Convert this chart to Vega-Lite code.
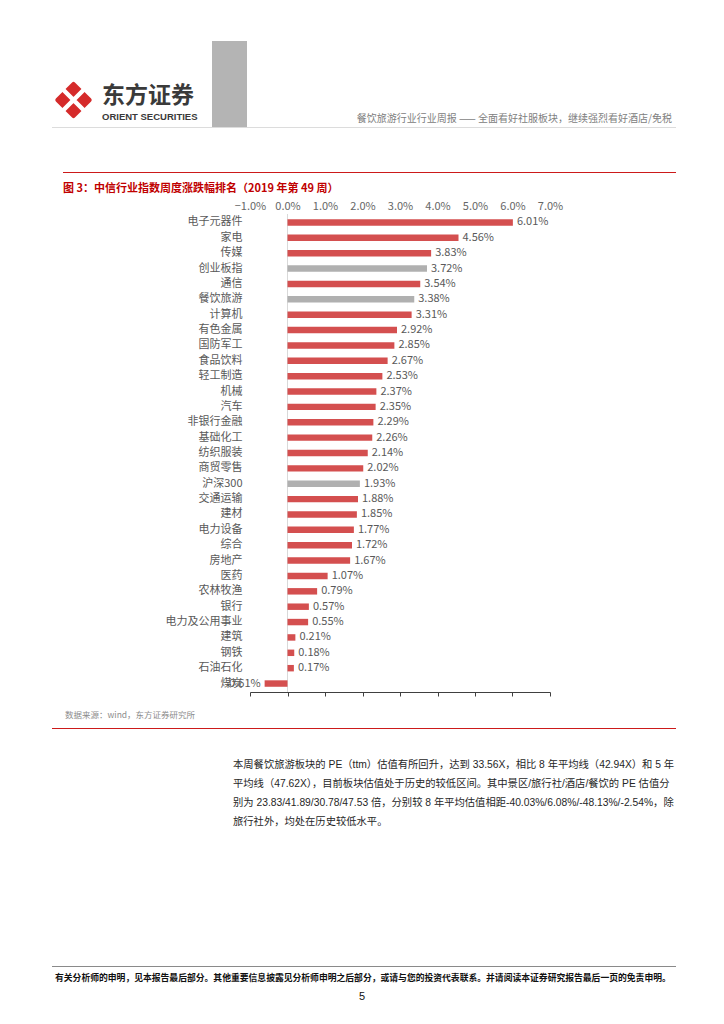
{
  "$schema": "https://vega.github.io/schema/vega-lite/v6.json",
  "padding": {"left": 46, "top": 41, "right": 0, "bottom": 0},
  "background": "white",
  "columns": 4,
  "bounds": "flush",
  "spacing": 0,
  "config": {"view": {"stroke": null}, "font": "Noto Sans CJK SC", "title": {"fontWeight": "normal", "frame": "group"}},
  "concat": [
    {"width": 11, "height": 38, "data": {"values": [{}]}, "mark": {"type": "text"}, "encoding": {"text": {"value": ""}}},
    {"width": 149, "height": 38, "data": {"values": [{}]}, "mark": {"type": "text"}, "encoding": {"text": {"value": ""}}},
    {"width": 35, "height": 38, "view": {"fill": "#b4b4b4", "stroke": null}, "data": {"values": [{}]}, "mark": {"type": "text"}, "encoding": {"text": {"value": ""}}},
    {"width": 426, "height": 38, "data": {"values": [{}]}, "mark": {"type": "text"}, "encoding": {"text": {"value": ""}}},

    {"width": 11, "height": 48, "data": {"values": [{}]}, "mark": {"type": "text"}, "encoding": {"text": {"value": ""}}},
    {
      "width": 21, "height": 42,
      "data": {"values": [{}]},
      "title": {"text": "东方证券", "subtitle": "ORIENT SECURITIES", "orient": "bottom", "anchor": "start", "offset": -42, "dx": 39, "fontSize": 23, "fontWeight": "bold", "color": "#3a3a3a", "subtitleFontSize": 9.5, "subtitleFontWeight": "bold", "subtitleColor": "#3a3a3a", "subtitleFont": "Liberation Sans", "subtitlePadding": 4},
      "layer": [
        {"mark": {"type": "point", "shape": "diamond", "filled": true, "fill": "#d52b2b", "stroke": "#d52b2b", "strokeWidth": 4, "strokeJoin": "round", "size": 1050, "opacity": 1}},
        {"mark": {"type": "point", "shape": "M-1,-1L1,1M1,-1L-1,1", "filled": false, "stroke": "white", "strokeWidth": 4.5, "size": 1300, "opacity": 1}}
      ]
    },
    {"width": 35, "height": 48, "view": {"fill": "#b4b4b4", "stroke": null}, "data": {"values": [{}]}, "mark": {"type": "text"}, "encoding": {"text": {"value": ""}}},
    {
      "width": 426, "height": 48, "data": {"values": [{}]}, "mark": {"type": "text"}, "encoding": {"text": {"value": ""}},
      "title": {"text": "餐饮旅游行业行业周报 —— 全面看好社服板块，继续强烈看好酒店/免税", "orient": "bottom", "anchor": "end", "offset": -13, "dx": -4, "fontSize": 10, "color": "#808080"}
    },

    {"width": 11, "height": 1, "view": {"fill": "#dcdcdc", "stroke": null}, "data": {"values": [{}]}, "mark": {"type": "text"}, "encoding": {"text": {"value": ""}}},
    {"width": 149, "height": 1, "view": {"fill": "#dcdcdc", "stroke": null}, "data": {"values": [{}]}, "mark": {"type": "text"}, "encoding": {"text": {"value": ""}}},
    {"width": 38, "height": 1, "view": {"fill": "#dcdcdc", "stroke": null}, "data": {"values": [{}]}, "mark": {"type": "text"}, "encoding": {"text": {"value": ""}}},
    {"width": 426, "height": 1, "view": {"fill": "#dcdcdc", "stroke": null}, "data": {"values": [{}]}, "mark": {"type": "text"}, "encoding": {"text": {"value": ""}}},

    {"width": 11, "height": 44, "data": {"values": [{}]}, "mark": {"type": "text"}, "encoding": {"text": {"value": ""}}},
    {"width": 149, "height": 44, "data": {"values": [{}]}, "mark": {"type": "text"}, "encoding": {"text": {"value": ""}}},
    {"width": 38, "height": 44, "data": {"values": [{}]}, "mark": {"type": "text"}, "encoding": {"text": {"value": ""}}},
    {"width": 426, "height": 44, "data": {"values": [{}]}, "mark": {"type": "text"}, "encoding": {"text": {"value": ""}}},

    {"width": 11, "height": 1, "data": {"values": [{}]}, "mark": {"type": "text"}, "encoding": {"text": {"value": ""}}},
    {
      "width": 149, "height": 1, "view": {"fill": "#cc1a1a", "stroke": null}, "data": {"values": [{}]}, "mark": {"type": "text"}, "encoding": {"text": {"value": ""}},
      "title": {"text": "图 3：中信行业指数周度涨跌幅排名（2019 年第 49 周）", "orient": "bottom", "anchor": "start", "offset": 5, "fontSize": 11, "fontWeight": "bold", "color": "#c00000"}
    },
    {"width": 38, "height": 1, "view": {"fill": "#cc1a1a", "stroke": null}, "data": {"values": [{}]}, "mark": {"type": "text"}, "encoding": {"text": {"value": ""}}},
    {"width": 426, "height": 1, "view": {"fill": "#cc1a1a", "stroke": null}, "data": {"values": [{}]}, "mark": {"type": "text"}, "encoding": {"text": {"value": ""}}},

    {"width": 11, "height": 41, "data": {"values": [{}]}, "mark": {"type": "text"}, "encoding": {"text": {"value": ""}}},
    {"width": 149, "height": 41, "data": {"values": [{}]}, "mark": {"type": "text"}, "encoding": {"text": {"value": ""}}},
    {"width": 38, "height": 41, "data": {"values": [{}]}, "mark": {"type": "text"}, "encoding": {"text": {"value": ""}}},
    {"width": 426, "height": 41, "data": {"values": [{}]}, "mark": {"type": "text"}, "encoding": {"text": {"value": ""}}},

    {"width": 11, "height": 478, "data": {"values": [{}]}, "mark": {"type": "text"}, "encoding": {"text": {"value": ""}}},
    {"width": 149, "height": 478, "data": {"values": [{}]}, "mark": {"type": "text"}, "encoding": {"text": {"value": ""}}},
    {"width": 38, "height": 478, "data": {"values": [{}]}, "mark": {"type": "text"}, "encoding": {"text": {"value": ""}}},
    {
      "width": 300, "height": 478,
      "data": {"values": [
        {"industry": "电子元器件", "chg": 0.0601, "kind": "行业"},
        {"industry": "家电", "chg": 0.0456, "kind": "行业"},
        {"industry": "传媒", "chg": 0.0383, "kind": "行业"},
        {"industry": "创业板指", "chg": 0.0372, "kind": "对照"},
        {"industry": "通信", "chg": 0.0354, "kind": "行业"},
        {"industry": "餐饮旅游", "chg": 0.0338, "kind": "对照"},
        {"industry": "计算机", "chg": 0.0331, "kind": "行业"},
        {"industry": "有色金属", "chg": 0.0292, "kind": "行业"},
        {"industry": "国防军工", "chg": 0.0285, "kind": "行业"},
        {"industry": "食品饮料", "chg": 0.0267, "kind": "行业"},
        {"industry": "轻工制造", "chg": 0.0253, "kind": "行业"},
        {"industry": "机械", "chg": 0.0237, "kind": "行业"},
        {"industry": "汽车", "chg": 0.0235, "kind": "行业"},
        {"industry": "非银行金融", "chg": 0.0229, "kind": "行业"},
        {"industry": "基础化工", "chg": 0.0226, "kind": "行业"},
        {"industry": "纺织服装", "chg": 0.0214, "kind": "行业"},
        {"industry": "商贸零售", "chg": 0.0202, "kind": "行业"},
        {"industry": "沪深300", "chg": 0.0193, "kind": "对照"},
        {"industry": "交通运输", "chg": 0.0188, "kind": "行业"},
        {"industry": "建材", "chg": 0.0185, "kind": "行业"},
        {"industry": "电力设备", "chg": 0.0177, "kind": "行业"},
        {"industry": "综合", "chg": 0.0172, "kind": "行业"},
        {"industry": "房地产", "chg": 0.0167, "kind": "行业"},
        {"industry": "医药", "chg": 0.0107, "kind": "行业"},
        {"industry": "农林牧渔", "chg": 0.0079, "kind": "行业"},
        {"industry": "银行", "chg": 0.0057, "kind": "行业"},
        {"industry": "电力及公用事业", "chg": 0.0055, "kind": "行业"},
        {"industry": "建筑", "chg": 0.0021, "kind": "行业"},
        {"industry": "钢铁", "chg": 0.0018, "kind": "行业"},
        {"industry": "石油石化", "chg": 0.0017, "kind": "行业"},
        {"industry": "煤炭", "chg": -0.0061, "kind": "行业"}
      ]},
      "resolve": {"axis": {"x": "independent"}},
      "layer": [
        {
          "data": {"values": [{}]},
          "mark": {"type": "rule", "color": "#d9d9d9", "strokeWidth": 1},
          "encoding": {"x": {"datum": 0, "type": "quantitative", "axis": null}}
        },
        {
          "mark": {"type": "bar"},
          "encoding": {
            "y": {"field": "industry", "type": "nominal", "sort": null,
                  "scale": {"paddingInner": 0.58, "paddingOuter": 0.34},
                  "axis": {"title": null, "domain": false, "ticks": false, "labelPadding": 8, "labelFontSize": 11, "labelColor": "#595959", "labelFont": "Noto Sans CJK SC"}},
            "x": {"field": "chg", "type": "quantitative",
                  "scale": {"domain": [-0.01, 0.07], "nice": false, "zero": false},
                  "axis": {"orient": "top", "values": [-0.01, 0, 0.01, 0.02, 0.03, 0.04, 0.05, 0.06, 0.07], "format": ".1%", "domain": false, "ticks": false, "grid": false, "title": null, "labelFontSize": 11, "labelColor": "#666666", "labelPadding": 3, "labelOverlap": false, "labelFlush": false}},
            "color": {"field": "kind", "type": "nominal", "scale": {"domain": ["行业", "对照"], "range": ["#d44f4f", "#b0b0b0"]}, "legend": null}
          }
        },
        {
          "transform": [{"filter": "datum.chg >= 0"}],
          "mark": {"type": "text", "align": "left", "baseline": "middle", "dx": 4, "fontSize": 11, "color": "#595959"},
          "encoding": {
            "y": {"field": "industry", "type": "nominal", "sort": null},
            "x": {"field": "chg", "type": "quantitative",
                  "axis": {"orient": "bottom", "values": [-0.01, 0, 0.01, 0.02, 0.03, 0.04, 0.05, 0.06, 0.07], "labels": false, "domain": true, "domainColor": "#404040", "tickColor": "#404040", "tickSize": 4, "grid": false, "title": null}},
            "text": {"field": "chg", "type": "quantitative", "format": ".2%"}
          }
        },
        {
          "transform": [{"filter": "datum.chg < 0"}],
          "mark": {"type": "text", "align": "right", "baseline": "middle", "dx": -4, "fontSize": 11, "color": "#595959"},
          "encoding": {
            "y": {"field": "industry", "type": "nominal", "sort": null},
            "x": {"field": "chg", "type": "quantitative", "axis": null},
            "text": {"field": "chg", "type": "quantitative", "format": ".2%"}
          }
        }
      ]
    },

    {"width": 11, "height": 36, "data": {"values": [{}]}, "mark": {"type": "text"}, "encoding": {"text": {"value": ""}}},
    {"width": 149, "height": 36, "data": {"values": [{}]}, "mark": {"type": "text"}, "encoding": {"text": {"value": ""}}},
    {"width": 38, "height": 36, "data": {"values": [{}]}, "mark": {"type": "text"}, "encoding": {"text": {"value": ""}}},
    {"width": 426, "height": 36, "data": {"values": [{}]}, "mark": {"type": "text"}, "encoding": {"text": {"value": ""}}},

    {"width": 11, "height": 1, "view": {"fill": "#cc1a1a", "stroke": null}, "data": {"values": [{}]}, "mark": {"type": "text"}, "encoding": {"text": {"value": ""}}},
    {
      "width": 149, "height": 1, "view": {"fill": "#cc1a1a", "stroke": null}, "data": {"values": [{}]}, "mark": {"type": "text"}, "encoding": {"text": {"value": ""}},
      "title": {"text": "数据来源：wind，东方证券研究所", "orient": "top", "anchor": "start", "offset": 3, "dx": 2, "fontSize": 8.5, "color": "#8c8c8c"}
    },
    {
      "width": 38, "height": 1, "view": {"fill": "#cc1a1a", "stroke": null}, "data": {"values": [{}]}, "mark": {"type": "text"}, "encoding": {"text": {"value": ""}},
      "title": {
        "text": [
          "本周餐饮旅游板块的 PE（ttm）估值有所回升，达到 33.56X，相比 8 年平均线（42.94X）和 5 年",
          "平均线（47.62X），目前板块估值处于历史的较低区间。其中景区/旅行社/酒店/餐饮的 PE 估值分",
          "别为 23.83/41.89/30.78/47.53 倍，分别较 8 年平均估值相距-40.03%/6.08%/-48.13%/-2.54%，除",
          "旅行社外，均处在历史较低水平。"
        ],
        "orient": "bottom", "anchor": "start", "offset": 26, "dx": 21, "fontSize": 10.3, "lineHeight": 19, "color": "#262626", "font": "Liberation Sans, Noto Sans CJK SC"
      }
    },
    {"width": 426, "height": 1, "view": {"fill": "#cc1a1a", "stroke": null}, "data": {"values": [{}]}, "mark": {"type": "text"}, "encoding": {"text": {"value": ""}}},

    {"width": 11, "height": 237, "data": {"values": [{}]}, "mark": {"type": "text"}, "encoding": {"text": {"value": ""}}},
    {"width": 149, "height": 237, "data": {"values": [{}]}, "mark": {"type": "text"}, "encoding": {"text": {"value": ""}}},
    {"width": 38, "height": 237, "data": {"values": [{}]}, "mark": {"type": "text"}, "encoding": {"text": {"value": ""}}},
    {"width": 426, "height": 237, "data": {"values": [{}]}, "mark": {"type": "text"}, "encoding": {"text": {"value": ""}}},

    {"width": 11, "height": 1, "view": {"fill": "#8a8a8a", "stroke": null}, "data": {"values": [{}]}, "mark": {"type": "text"}, "encoding": {"text": {"value": ""}}},
    {
      "width": 149, "height": 1, "view": {"fill": "#8a8a8a", "stroke": null}, "data": {"values": [{}]}, "mark": {"type": "text"}, "encoding": {"text": {"value": ""}},
      "title": {"text": "有关分析师的申明，见本报告最后部分。其他重要信息披露见分析师申明之后部分，或请与您的投资代表联系。并请阅读本证券研究报告最后一页的免责申明。", "orient": "bottom", "anchor": "start", "offset": 2, "dx": -8, "fontSize": 8.8, "fontWeight": "bold", "color": "#111111"}
    },
    {"width": 38, "height": 1, "view": {"fill": "#8a8a8a", "stroke": null}, "data": {"values": [{}]}, "mark": {"type": "text"}, "encoding": {"text": {"value": ""}}},
    {
      "width": 426, "height": 1, "view": {"fill": "#8a8a8a", "stroke": null}, "data": {"values": [{}]}, "mark": {"type": "text"}, "encoding": {"text": {"value": ""}},
      "title": {"text": "5", "orient": "bottom", "anchor": "start", "offset": 19, "dx": 109, "fontSize": 11, "color": "#111111", "font": "Liberation Sans"}
    }
  ]
}
